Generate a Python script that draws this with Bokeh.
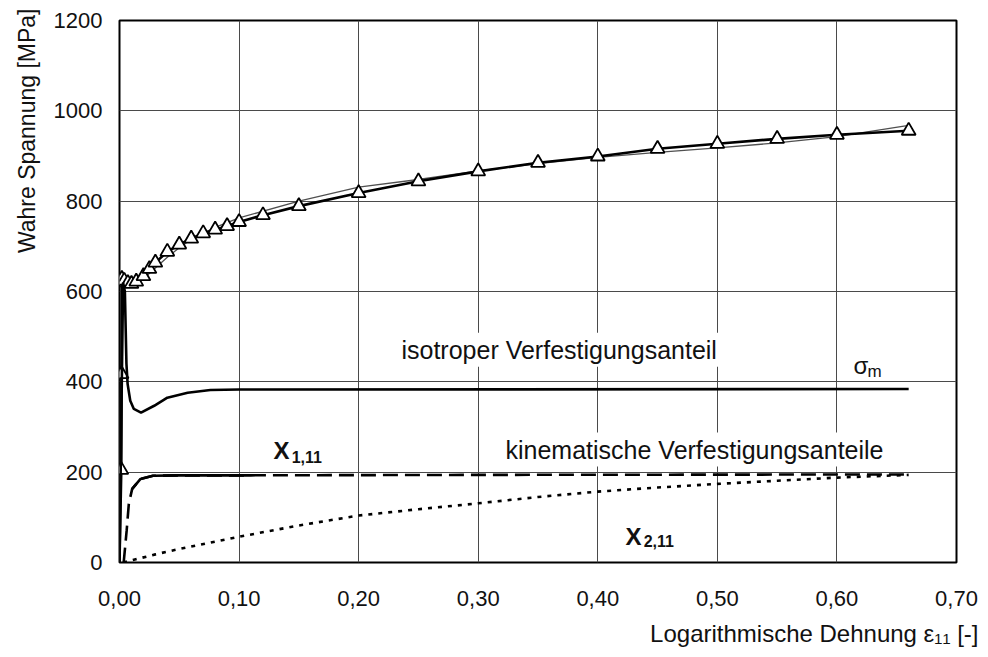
import math
from bokeh.plotting import figure
from bokeh.models import FixedTicker, Label, Range1d, Title
from bokeh.embed import file_html
from bokeh.resources import INLINE

# ---- data ----
x_ticks = [0.0, 0.1, 0.2, 0.3, 0.4, 0.5, 0.6, 0.7]
x_tick_labels = ["0,00", "0,10", "0,20", "0,30", "0,40", "0,50", "0,60", "0,70"]
y_ticks = [0, 200, 400, 600, 800, 1000, 1200]

# experiment (thick line with triangles)
exp_eps = [0.0, 0.0015, 0.0017, 0.002, 0.004, 0.007, 0.010, 0.014, 0.020, 0.025, 0.030,
           0.040, 0.050, 0.060, 0.070, 0.080, 0.090, 0.100, 0.120, 0.150, 0.200, 0.250,
           0.300, 0.350, 0.400, 0.450, 0.500, 0.550, 0.600, 0.660]
exp_sig = [0, 205, 417, 628, 624, 619, 617, 622, 634, 650, 664,
           688, 704, 717, 729, 737, 745, 754, 769, 789, 818, 844,
           866, 885, 899, 916, 927, 938, 947, 956]

# simulation total (thin line)
sim_eps = [0.0, 0.0013, 0.004, 0.008, 0.012, 0.016, 0.020, 0.030, 0.040, 0.050, 0.060,
           0.080, 0.100, 0.150, 0.200, 0.250, 0.300, 0.350, 0.400, 0.450, 0.500, 0.550,
           0.600, 0.660]
sim_sig = [0, 625, 614, 611, 614, 620, 628, 652, 676, 697, 715,
           742, 763, 800, 831, 848, 867, 883, 897, 908, 918, 929,
           943, 968]

# isotropic part sigma_m
iso_eps = [0.0, 0.0030, 0.0045, 0.0058, 0.0068, 0.009, 0.012, 0.018, 0.029, 0.040,
           0.057, 0.076, 0.100, 0.660]
iso_sig = [0, 620, 600, 440, 395, 358, 340, 332, 347, 365, 376, 382, 383, 384]

# kinematic part X_1,11
x1_eps = [0.0035, 0.006, 0.0078, 0.0106, 0.0176, 0.028, 0.050, 0.110, 0.300, 0.660]
x1_sig = [0, 71, 130, 163, 185, 192, 193, 193, 194, 195]

# kinematic part X_2,11
x2_eps = [0.003, 0.012, 0.030, 0.050, 0.100, 0.150, 0.200, 0.250, 0.300, 0.350,
          0.400, 0.450, 0.500, 0.550, 0.600, 0.660]
x2_sig = [0, 6, 18, 30, 57, 82, 104, 118, 131, 145, 157, 166, 174, 181, 188, 194]

FONT = "Liberation Sans"
INK = "#111111"

p = figure(width=980, height=657, x_range=Range1d(0, 0.70), y_range=Range1d(0, 1200),
           output_backend="svg", toolbar_location=None,
           min_border_left=119, min_border_right=24, min_border_top=20, min_border_bottom=95)
p.background_fill_color = "white"
p.border_fill_color = "white"
p.outline_line_color = "black"
p.outline_line_width = 2
p.outline_line_alpha = 1

p.xaxis.ticker = FixedTicker(ticks=x_ticks)
p.yaxis.ticker = FixedTicker(ticks=y_ticks)
p.xaxis.major_label_overrides = dict(zip(x_ticks, x_tick_labels))
for ax in (p.xaxis, p.yaxis):
    ax.axis_line_color = None
    ax.major_tick_line_color = None
    ax.minor_tick_line_color = None
    ax.major_tick_in = 0
    ax.major_tick_out = 0
    ax.major_label_text_font = FONT
    ax.major_label_text_font_size = "22px"
    ax.major_label_text_color = INK
p.xaxis.major_label_standoff = 28
p.yaxis.major_label_standoff = 17

p.grid.grid_line_color = "#4a4a4a"
p.grid.grid_line_width = 1
p.grid.grid_line_alpha = 1

# curves
p.line(sim_eps, sim_sig, line_color="#505050", line_width=1.3)
p.line(exp_eps, exp_sig, line_color="black", line_width=2.6)
p.scatter(exp_eps[1:], exp_sig[1:], marker="triangle", size=14,
          fill_color="white", line_color="black", line_width=1.8)
p.line(iso_eps, iso_sig, line_color="black", line_width=2.6)
p.line(x1_eps, x1_sig, line_color="black", line_width=2.6, line_dash="15 7")
solid_x = [e for e in x1_eps if 0.010 <= e <= 0.110]
solid_y = [s for e, s in zip(x1_eps, x1_sig) if 0.010 <= e <= 0.110]
p.line(solid_x, solid_y, line_color="black", line_width=2.6)
p.line(x2_eps, x2_sig, line_color="black", line_width=2.6, line_dash="4 6")


def lab(x, y, text, size, bold=False, bg=None):
    kw = dict(x=x, y=y, text=text, text_font=FONT, text_font_size=size,
              text_color=INK, text_align="left", text_baseline="alphabetic",
              text_font_style="bold" if bold else "normal")
    if bg:
        kw.update(background_fill_color=bg, padding=3, level="underlay")
    p.add_layout(Label(**kw))


# annotations in plot
lab(0.2333, 471, "isotroper Verfestigungsanteil", "25px", bg="white")
lab(0.3203, 250, "kinematische Verfestigungsanteile", "25px", bg="white")
lab(0.6139, 436, "\u03c3", "24px")
lab(0.6256, 422, "m", "17px")
lab(0.1288, 247, "X", "24px", bold=True)
lab(0.1440, 233, "1,11", "16px", bold=True)
lab(0.4232, 58, "X", "24px", bold=True)
lab(0.4384, 47, "2,11", "16px", bold=True)

# axis titles
ytitle = Title(text="Wahre Spannung [MPa]", align="right", offset=-12, standoff=22,
               text_font=FONT, text_font_size="23px", text_font_style="normal",
               text_color=INK)
p.add_layout(ytitle, "left")
xtitle = Title(text="Logarithmische Dehnung \u03b5\u2081\u2081 [-]", align="right", offset=-22,
               standoff=18, text_font=FONT, text_font_size="24px",
               text_font_style="normal", text_color=INK)
p.add_layout(xtitle, "below")

open("out.html", "w").write(file_html(p, INLINE))
